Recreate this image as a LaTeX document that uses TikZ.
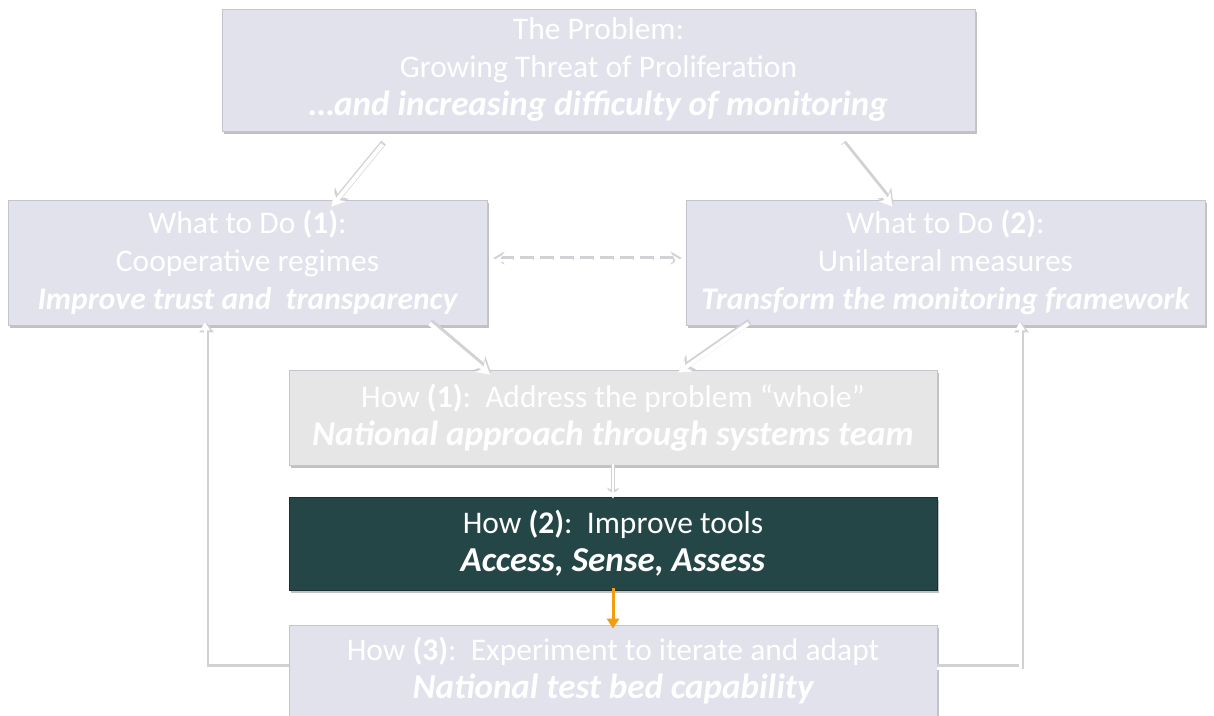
\documentclass[tikz,border=0pt]{standalone}
\usepackage{fontspec}
\setmainfont{Carlito}
\usetikzlibrary{arrows.meta,shadows,calc}
\definecolor{boxlav}{HTML}{E1E2EC}
\definecolor{boxgray}{HTML}{E6E6E6}
\definecolor{boxteal}{HTML}{254646}
\definecolor{edgegray}{HTML}{C4C4CC}
\definecolor{shadowgray}{HTML}{D2D2D6}
\definecolor{orangearrow}{HTML}{F39C12}
\newcommand{\bigbi}[1]{{\fontsize{35}{40}\selectfont\bfseries\itshape #1}}
\newcommand{\midbi}[1]{{\bfseries\itshape #1}}
\tikzset{
  panel/.style={rectangle, draw=edgegray, line width=0.8pt, text=white, align=center,
    inner sep=0pt, font=\fontsize{31.5}{38}\selectfont,
    drop shadow={shadow xshift=1.5pt, shadow yshift=-3pt, opacity=0.4, fill=black!60}},
  lav/.style={panel, fill=boxlav},
  gry/.style={panel, fill=boxgray},
  dark/.style={panel, fill=boxteal, draw=boxteal!70!black},
  shadowline/.style={shadowgray, line width=6pt, -{Stealth[length=15pt,width=18pt]}},
  whiteline/.style={white, line width=4pt, -{Stealth[length=13pt,width=15pt]}},
  loopshadow/.style={shadowgray, line width=5.5pt, -{Triangle[length=10pt,width=14pt]}},
  loopwhite/.style={white, line width=3pt, -{Triangle[length=8pt,width=10pt]}},
}
\begin{document}
\begin{tikzpicture}[x=1pt,y=-1pt]
\useasboundingbox (0,0) rectangle (1214,715);
\fill[white] (0,0) rectangle (1214,715);
\begin{scope}
\clip (0,0) rectangle (1214,715);
\node[lav, minimum width=753pt, minimum height=122pt] (top) at (598.5,70)
  {The Problem:\\Growing Threat of Proliferation\\\bigbi{\ldots and increasing difficulty of monitoring}};
\node[lav, minimum width=479pt, minimum height=125pt] (w1) at (247.5,262.5)
  {What to Do \textbf{(1)}:\\Cooperative regimes\\\midbi{Improve trust and~~transparency}};
\node[lav, minimum width=519pt, minimum height=125pt] (w2) at (945.5,262.5)
  {What to Do \textbf{(2)}:\\Unilateral measures\\\midbi{Transform the monitoring framework}};
\node[gry, minimum width=648pt, minimum height=95pt] (h1) at (613,417.5)
  {How \textbf{(1)}:~~Address the problem \char"201Cwhole\char"201D\\\bigbi{National approach through systems team}};
\node[dark, minimum width=648pt, minimum height=93pt] (h2) at (613,543.5)
  {How \textbf{(2)}:~~Improve tools\\\bigbi{Access, Sense, Assess}};
\node[lav, minimum width=648pt, minimum height=92pt] (h3) at (613,671)
  {How \textbf{(3)}:~~Experiment to iterate and adapt\\\bigbi{National test bed capability}};
\end{scope}
% arrows top -> what to do
\coordinate (a1s) at ([xshift=-216pt,yshift=-13pt]top.south);
\coordinate (a1e) at ([xshift=84pt,yshift=-7pt]w1.north);
\coordinate (a2s) at ([xshift=244pt,yshift=-13pt]top.south);
\coordinate (a2e) at ([xshift=-53pt,yshift=-7pt]w2.north);
\coordinate (b1s) at ([xshift=182pt,yshift=2pt]w1.south);
\coordinate (b1e) at ([xshift=-123pt,yshift=-5pt]h1.north);
\coordinate (b2s) at ([xshift=-197pt,yshift=2pt]w2.south);
\coordinate (b2e) at ([xshift=65pt,yshift=-3pt]h1.north);
\foreach \s/\e in {a1s/a1e,a2s/a2e,b1s/b1e,b2s/b2e}{
  \draw[shadowline] ([xshift=1pt,yshift=1.8pt]\s) -- ([xshift=1pt,yshift=1.8pt]\e);
  \draw[whiteline] (\s) -- (\e);
}
% h1 -> h2
\draw[shadowgray, line width=4pt, -{Stealth[length=10pt,width=12pt]}] ([yshift=1pt]h1.south) -- ([yshift=-1pt]h2.north);
\draw[white, line width=2pt, -{Stealth[length=8pt,width=9pt]}] ([yshift=1pt]h1.south) -- ([yshift=-2pt]h2.north);
% h2 -> h3
\draw[orangearrow, line width=3pt, -{Triangle[length=10pt,width=12pt]}] ([yshift=2pt]h2.south) -- ([yshift=-4pt]h3.north);
% dashed double arrow
\coordinate (dl) at ([xshift=6pt,yshift=2pt]w1.east);
\coordinate (dr) at ([xshift=-4pt,yshift=2pt]w2.west);
\draw[shadowgray, line width=4.5pt, dash pattern=on 14pt off 6pt, {Stealth[length=11pt,width=13pt]}-{Stealth[length=11pt,width=13pt]}] ([yshift=2.5pt]dl) -- ([yshift=2.5pt]dr);
\draw[white, line width=3.5pt, dash pattern=on 14pt off 6pt, {Stealth[length=9pt,width=11pt]}-{Stealth[length=9pt,width=11pt]}] (dl) -- (dr);
% feedback loops
\coordinate (lt) at ([xshift=-42.5pt,yshift=3pt]w1.south);
\coordinate (rt) at ([xshift=74.5pt,yshift=3pt]w2.south);
\draw[loopshadow] ([yshift=1.5pt]h3.west |- 0,668) -| ([xshift=1.5pt]lt);
\draw[loopwhite] (h3.west |- 0,668) -| (lt);
\draw[loopshadow] ([yshift=1.5pt]h3.east |- 0,668) -| ([xshift=1.5pt]rt);
\draw[loopwhite] (h3.east |- 0,668) -| (rt);
\end{tikzpicture}
\end{document}
